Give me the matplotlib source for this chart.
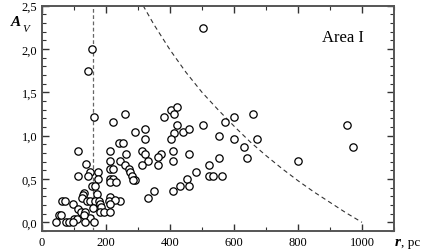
import matplotlib
matplotlib.use("Agg")
import matplotlib.pyplot as plt
from matplotlib.ticker import MultipleLocator, FuncFormatter

# distance r (pc) and extinction A_V
r_pts = [157, 145, 163, 502,
         221, 260, 292, 322, 322, 381, 402, 421, 412, 421, 442, 460, 412, 402,
         502, 552, 572, 601, 601, 660, 671, 631, 642, 552, 522, 522, 533, 561,
         801, 952, 971,
         242, 252, 113, 212, 262, 311, 322, 372, 361, 410, 460, 410, 332, 311,
         361, 244, 212, 259, 137, 272, 275, 280, 291, 283, 481, 452, 460, 431,
         410, 351, 332, 212, 223, 150, 174, 111, 145, 176, 212, 222, 212, 231,
         157, 166,
         132, 129, 171, 212, 210, 244, 228, 64, 72, 124, 140, 150, 166, 179,
         98, 181, 184, 113, 160, 122, 134, 181, 194, 212, 212, 52, 60, 101, 108,
         149, 130, 44, 75, 85, 98, 133, 163]
av_pts = [2.00, 1.75, 1.21, 2.24,
          1.16, 1.25, 1.04, 1.08, 0.96, 1.21, 1.29, 1.33, 1.245, 1.12, 1.04, 1.08, 1.03, 0.96,
          1.12, 1.00, 1.16, 1.21, 0.96, 1.245, 0.96, 0.865, 0.74, 0.74, 0.66, 0.54, 0.54, 0.54,
          0.71, 1.12, 0.87,
          0.92, 0.92, 0.82, 0.82, 0.785, 0.82, 0.785, 0.785, 0.75, 0.82, 0.785, 0.705, 0.705, 0.667,
          0.66, 0.705, 0.705, 0.66, 0.67, 0.61, 0.575, 0.54, 0.49, 0.49, 0.58, 0.50, 0.42, 0.42,
          0.365, 0.365, 0.285, 0.61, 0.61, 0.575, 0.575, 0.54, 0.54, 0.50, 0.50, 0.50, 0.46, 0.46,
          0.42, 0.42,
          0.34, 0.31, 0.33, 0.29, 0.245, 0.25, 0.26, 0.25, 0.25, 0.28, 0.25, 0.25, 0.25, 0.25,
          0.21, 0.21, 0.18, 0.15, 0.17, 0.115, 0.115, 0.115, 0.115, 0.115, 0.21, 0.08, 0.08, 0.04, 0.04,
          0.05, 0.08, 0.0, 0.0, 0.0, 0.0, 0.0, 0.0]

# dashed boundary curve
curve_r = [316, 350, 400, 450, 500, 550, 600, 650, 700, 750, 800, 850, 900, 950, 1000]
curve_av = [2.50, 2.28, 1.99, 1.73, 1.50, 1.30, 1.11, 0.93, 0.77, 0.62, 0.48, 0.35, 0.23, 0.11, 0.0]

r_limit = 160

plt.rcParams['font.family'] = ['Liberation Serif', 'DejaVu Serif']

fig = plt.figure(figsize=(4.22, 2.53), dpi=100)
ax = fig.add_axes([0.0995, 0.083, 0.8341, 0.891])

ax.axvline(r_limit, color='#666666', lw=0.9, ls=(0, (3, 2)))
ax.plot(curve_r, curve_av, color='#333333', lw=0.8, ls=(0, (4, 3)))
ax.scatter(r_pts, av_pts, s=28, facecolors='white', edgecolors='black', linewidths=0.9, zorder=3)

ax.set_xlim(0, 1100)
ax.set_ylim(-0.1, 2.5)
ax.xaxis.set_major_locator(MultipleLocator(200))
ax.xaxis.set_minor_locator(MultipleLocator(100))
ax.yaxis.set_major_locator(MultipleLocator(0.5))
ax.yaxis.set_minor_locator(MultipleLocator(0.1))
ax.yaxis.set_major_formatter(FuncFormatter(lambda v, p: f"{v:.1f}".replace('.', ',')))
ax.xaxis.set_major_formatter(FuncFormatter(lambda v, p: "" if v > 1000 else f"{v:.0f}"))
ax.tick_params(which='both', direction='in', top=True, right=True, labelsize=9, colors='#333333',
               labelcolor='black')
ax.tick_params(which='major', length=5, width=1)
ax.tick_params(which='minor', length=3, width=0.8)
for s in ax.spines.values():
    s.set_linewidth(1.4)
    s.set_color('#555555')

ax.text(0.915, 0.86, "Area I", transform=ax.transAxes, ha='right', va='center', fontsize=12)

fig.text(0.025, 0.91, "A", fontsize=11, fontweight='bold', fontstyle='italic', ha='left', va='center')
fig.text(0.053, 0.885, "V", fontsize=8, fontstyle='italic', ha='left', va='center')
fig.text(0.996, 0.04, ", pc", fontsize=9.5, ha='right', va='center')
fig.text(0.949, 0.04, "r", fontsize=11, fontweight='bold', fontstyle='italic', ha='right', va='center')

fig.savefig("out.png", dpi=100)
